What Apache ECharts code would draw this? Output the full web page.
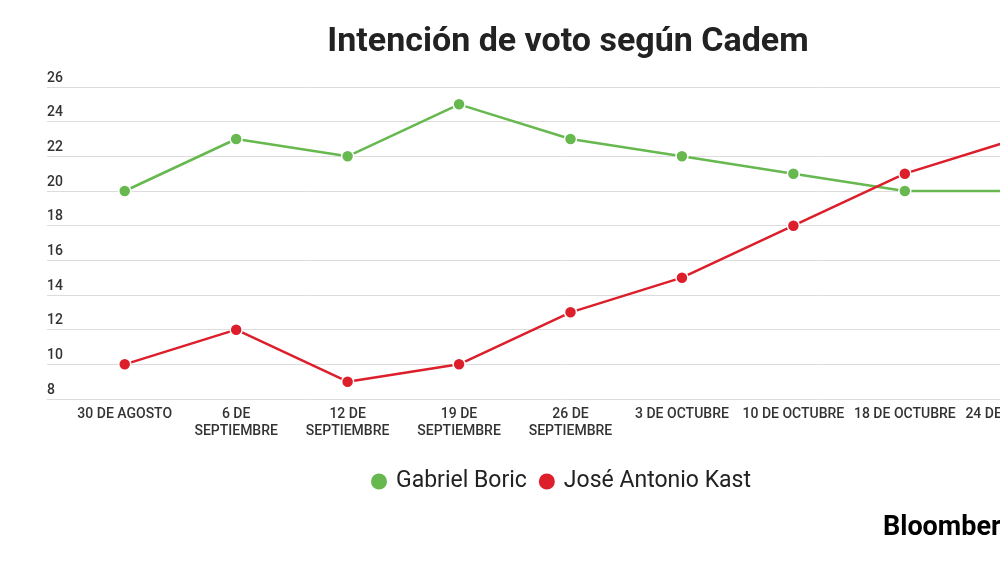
<!DOCTYPE html>
<html>
<head>
<meta charset="utf-8">
<script src="https://cdn.jsdelivr.net/npm/echarts@6/dist/echarts.min.js"></script>
<style>
  html, body { margin: 0; padding: 0; background: #fff; overflow: hidden; }
  /* the original graphic is wider than the frame and cut at the right */
  #chart { width: 1080px; height: 562px; }
</style>
</head>
<body>
<div id="chart"></div>
<script>
var fechas = ['30 DE AGOSTO', '6 DE\nSEPTIEMBRE', '12 DE\nSEPTIEMBRE', '19 DE\nSEPTIEMBRE', '26 DE\nSEPTIEMBRE',
  '3 DE OCTUBRE', '10 DE OCTUBRE', '18 DE OCTUBRE', '24 DE OCTUBRE']
var boric = [20, 23, 22, 25, 23, 22, 21, 20, 20]
var kast = [10, 12, 9, 10, 13, 15, 18, 21, 23]
var nombres = ['Gabriel Boric', 'José Antonio Kast']

var verde = '#66b84f'
var rojo = '#dc1f2b'

var chart = echarts.init(document.getElementById('chart'))

var option = {
  backgroundColor: '#fff',
  textStyle: { fontFamily: 'Roboto' },
  title: {
    text: 'Intención de voto según Cadem',
    left: 563,
    textAlign: 'center',
    top: 20,
    textStyle: { fontSize: 34, fontWeight: 'bold', color: '#222', fontFamily: 'Roboto' }
  },
  legend: {
    data: nombres,
    left: 364,
    top: 465,
    icon: 'circle',
    itemWidth: 18,
    itemHeight: 18,
    itemGap: 10,
    textStyle: { fontSize: 23, color: '#222', fontFamily: 'Roboto', padding: [0, 0, 0, 3] }
  },
  grid: [
    // grid lines only
    { left: 47, right: 0, top: 87, bottom: 163 },
    // data grid
    { left: 69, right: 8, top: 87, bottom: 163 }
  ],
  xAxis: [
    { gridIndex: 0, type: 'value', show: false, min: 0, max: 1 },
    {
      gridIndex: 1,
      type: 'category',
      data: fechas,
      boundaryGap: true,
      axisLine: { show: false },
      axisTick: { show: false },
      axisLabel: {
        margin: 7,
        fontSize: 14,
        fontWeight: 500,
        color: '#333',
        lineHeight: 17,
        interval: 0
      }
    }
  ],
  yAxis: [
    {
      gridIndex: 0,
      type: 'value',
      min: 8,
      max: 26,
      interval: 2,
      axisLine: { show: false },
      axisTick: { show: false },
      splitLine: { lineStyle: { color: '#dcdcdc', width: 1 } },
      axisLabel: {
        inside: true,
        margin: 0,
        verticalAlign: 'bottom',
        padding: [0, 0, 2, 0],
        fontSize: 14,
        fontWeight: 500,
        color: '#333'
      }
    },
    { gridIndex: 1, type: 'value', min: 8, max: 26, interval: 2, show: false }
  ],
  series: [
    {
      name: nombres[0],
      type: 'line',
      xAxisIndex: 1,
      yAxisIndex: 1,
      data: boric,
      color: verde,
      symbol: 'circle',
      symbolSize: 12,
      lineStyle: { width: 2.5, color: verde },
      itemStyle: { color: verde, borderColor: '#fff', borderWidth: 1.5 }
    },
    {
      name: nombres[1],
      type: 'line',
      xAxisIndex: 1,
      yAxisIndex: 1,
      data: kast,
      color: rojo,
      symbol: 'circle',
      symbolSize: 12,
      lineStyle: { width: 2.5, color: rojo },
      itemStyle: { color: rojo, borderColor: '#fff', borderWidth: 1.5 }
    }
  ],
  graphic: [
    {
      type: 'text',
      left: 883,
      top: 515,
      style: {
        text: 'Bloomberg',
        fill: '#000',
        font: 'bold 27px Roboto'
      }
    }
  ]
}

chart.setOption(option)
</script>
</body>
</html>
